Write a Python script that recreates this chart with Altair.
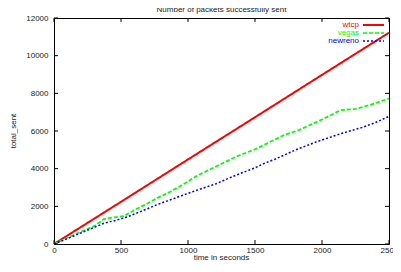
import altair as alt
import pandas as pd

# ---- data ----
series_names = ["wtcp", "vegas", "newreno"]
series_colors = ["#ff0000", "#00ff00", "#0000ff"]

wtcp_t = [0, 500, 1000, 1500, 2000, 2500]
wtcp_v = [0, 2240, 4490, 6730, 8980, 11220]

vegas_t = [0, 100, 200, 300, 372, 450, 520, 600, 680, 773, 846, 950, 1064, 1210,
           1356, 1502, 1575, 1648, 1720, 1830, 1939, 2040, 2136, 2253, 2377, 2500]
vegas_v = [0, 330, 650, 950, 1320, 1420, 1480, 1800, 2085, 2450, 2695, 3100, 3610, 4118,
           4627, 5034, 5288, 5543, 5797, 6050, 6407, 6750, 7100, 7170, 7424, 7729]

newreno_t = [0, 100, 211, 300, 372, 459, 550, 649, 773, 846, 950, 1064, 1210, 1356,
             1502, 1575, 1648, 1815, 1950, 2136, 2304, 2400, 2500]
newreno_v = [0, 280, 620, 880, 1100, 1250, 1450, 1730, 2100, 2290, 2560, 2850, 3200, 3650,
             4050, 4300, 4500, 5030, 5400, 5850, 6200, 6450, 6780]

x_ticks = [0, 500, 1000, 1500, 2000, 2500]
y_ticks = [0, 2000, 4000, 6000, 8000, 10000, 12000]

title_text = "Number of packets successfully sent"
x_title = "time in seconds"
y_title = "total_sent"

# ---- build tables ----
rows = []
for name, ts, vs in [("wtcp", wtcp_t, wtcp_v), ("vegas", vegas_t, vegas_v), ("newreno", newreno_t, newreno_v)]:
    for t, v in zip(ts, vs):
        rows.append({"series": name, "t": t, "v": v})
df = pd.DataFrame(rows)

W, H = 335, 226
PL, PT = 46, 10
TOTAL_W, TOTAL_H = 385, 256
FONT = "Liberation Sans"
TXT = "#222222"

xscale = alt.Scale(domain=[0, 2500], nice=False, zero=False)
yscale = alt.Scale(domain=[0, 12000], nice=False, zero=False)

x_axis = alt.Axis(values=x_ticks, format="d", title=None, labelPadding=2)
y_axis = alt.Axis(values=y_ticks, format="d", title=None, labelPadding=6)

lines = alt.Chart(df).mark_line(clip=True).encode(
    x=alt.X("t:Q", scale=xscale, axis=x_axis),
    y=alt.Y("v:Q", scale=yscale, axis=y_axis),
    color=alt.Color("series:N", scale=alt.Scale(domain=series_names, range=series_colors), legend=None),
    strokeDash=alt.StrokeDash("series:N", scale=alt.Scale(domain=series_names, range=[[1, 0], [4, 2], [2, 2]]), legend=None),
    strokeWidth=alt.StrokeWidth("series:N", scale=alt.Scale(domain=series_names, range=[2, 1.5, 1.5]), legend=None),
    detail="series:N",
)

xt = pd.DataFrame({"t": x_ticks})
yt = pd.DataFrame({"v": y_ticks})

tick_bottom = alt.Chart(xt).mark_rule(color="black", strokeWidth=1).encode(
    x=alt.X("t:Q", scale=xscale, axis=x_axis), y=alt.value(H), y2=alt.value(H - 4))
tick_top = alt.Chart(xt).mark_rule(color="black", strokeWidth=1).encode(
    x=alt.X("t:Q", scale=xscale, axis=x_axis), y=alt.value(0), y2=alt.value(4))
tick_left = alt.Chart(yt).mark_rule(color="black", strokeWidth=1).encode(
    y=alt.Y("v:Q", scale=yscale, axis=y_axis), x=alt.value(0), x2=alt.value(4))
tick_right = alt.Chart(yt).mark_rule(color="black", strokeWidth=1).encode(
    y=alt.Y("v:Q", scale=yscale, axis=y_axis), x=alt.value(W), x2=alt.value(W - 4))

title_mark = alt.Chart(pd.DataFrame({"label": [title_text]})).mark_text(
    font=FONT, fontSize=8, color=TXT, align="center", baseline="middle").encode(
    text="label:N", x=alt.value(W / 2), y=alt.value(-8))
xt_mark = alt.Chart(pd.DataFrame({"label": [x_title]})).mark_text(
    font=FONT, fontSize=8, color=TXT, align="center", baseline="middle").encode(
    text="label:N", x=alt.value(W / 2), y=alt.value(H + 14))
yt_mark = alt.Chart(pd.DataFrame({"label": [y_title]})).mark_text(
    font=FONT, fontSize=8, color=TXT, align="center", baseline="middle", angle=270).encode(
    text="label:N", x=alt.value(-40), y=alt.value(H / 2))

legend_layers = []
dashes = [[1, 0], [4, 2], [2, 2]]
widths = [2, 1.5, 1.5]
for i, (name, col) in enumerate(zip(series_names, series_colors)):
    ypos = 7 + 8 * i
    ldf = pd.DataFrame({"series": [name]})
    legend_layers.append(
        alt.Chart(ldf).mark_text(align="right", baseline="middle", font=FONT, fontSize=8, color=col).encode(
            text="series:N", x=alt.value(W - 30), y=alt.value(ypos)))
    legend_layers.append(
        alt.Chart(ldf).mark_rule(color=col, strokeWidth=widths[i], strokeDash=dashes[i]).encode(
            x=alt.value(W - 26), x2=alt.value(W - 5), y=alt.value(ypos)))

chart = alt.layer(lines, tick_bottom, tick_top, tick_left, tick_right,
                  title_mark, xt_mark, yt_mark, *legend_layers).properties(
    width=W, height=H,
    autosize=alt.AutoSizeParams(type="none"),
    padding={"left": PL, "top": PT, "right": TOTAL_W - PL - W, "bottom": TOTAL_H - PT - H},
    background="white",
).configure_view(
    stroke="black", strokeWidth=1
).configure_axis(
    labelFont=FONT, labelFontSize=8, labelColor=TXT,
    labelOverlap=False, labelFlush=False, grid=False, domain=False, ticks=False,
)

chart.save("out.html", embed_options={"renderer": "svg", "actions": False})
